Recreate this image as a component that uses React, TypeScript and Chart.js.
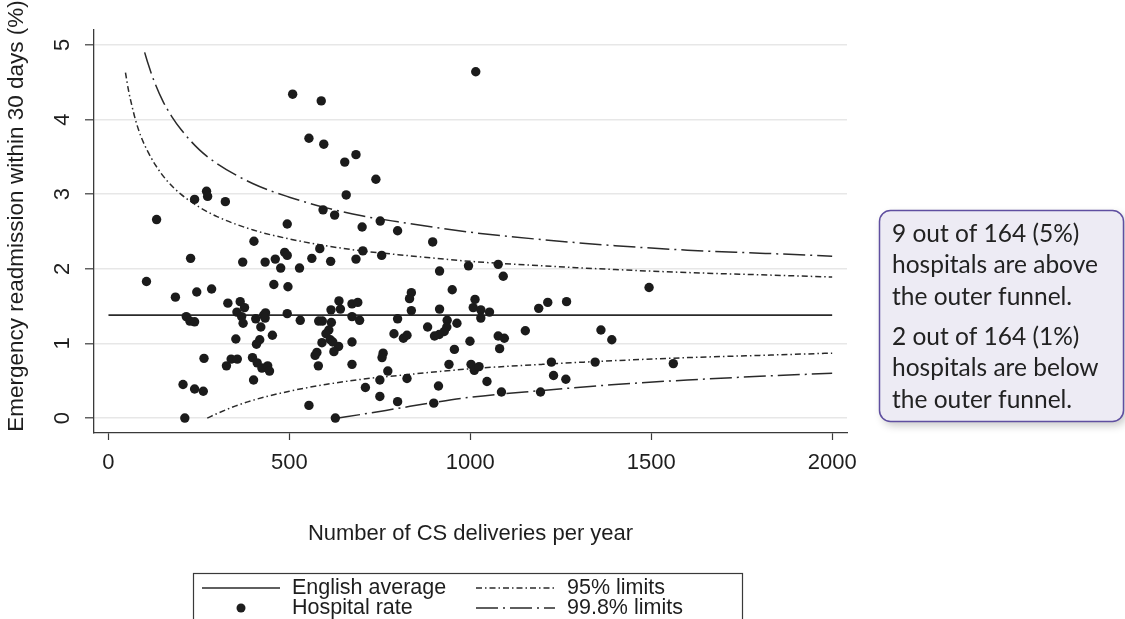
import React, { useEffect, useRef } from "react";
import { Chart, registerables } from "chart.js";

Chart.register(...registerables);

// Hospital caesarean-section volumes and 30-day emergency readmission rates (%)
const deliveries = [
  509, 588, 554, 595, 653, 684, 739, 657, 133, 238, 271, 274, 323, 494, 593, 625,
  1015, 751, 701, 799, 896, 703, 684, 755, 915, 995, 1077, 1091, 950, 637, 673, 689,
  641, 673, 694, 837, 832, 837, 799, 789, 815, 825, 882, 915, 936, 935, 928, 914,
  901, 963, 1013, 1008, 1029, 1053, 1029, 999, 956, 1077, 1094, 1081, 1152, 1189, 1214, 1266,
  636, 673, 673, 759, 756, 772, 750, 825, 710, 750, 799, 899, 912, 941, 1002, 1011,
  1024, 1046, 1086, 1194, 1224, 1230, 1264, 1494, 1361, 1391, 1345, 1561, 402, 487, 494, 461,
  433, 371, 227, 476, 528, 562, 584, 614, 105, 185, 244, 285, 457, 496, 330, 364,
  376, 355, 368, 372, 407, 421, 429, 434, 433, 494, 453, 530, 215, 225, 238, 352,
  409, 418, 264, 326, 339, 356, 398, 411, 424, 440, 445, 401, 206, 238, 262, 211,
  554, 627, 581, 591, 615, 616, 609, 601, 590, 613, 620, 623, 576, 571, 580,
];
const readmissionRates = [
  4.34, 4.25, 3.75, 3.67, 3.43, 3.53, 3.20, 2.99, 2.66, 2.93, 3.04, 2.97, 2.90, 2.60, 2.79, 2.72,
  4.64, 2.64, 2.56, 2.51, 2.36, 2.24, 2.13, 2.18, 1.97, 2.04, 2.06, 1.90, 1.72, 1.57, 1.53, 1.55,
  1.46, 1.36, 1.31, 1.68, 1.60, 1.44, 1.33, 1.13, 1.07, 1.11, 1.22, 1.46, 1.31, 1.22, 1.16, 1.12,
  1.10, 1.27, 1.59, 1.48, 1.45, 1.42, 1.34, 1.03, 0.92, 1.10, 1.07, 0.93, 1.17, 1.47, 1.55, 1.56,
  0.96, 1.02, 0.72, 0.87, 0.81, 0.63, 0.51, 0.53, 0.41, 0.29, 0.22, 0.20, 0.43, 0.72, 0.72, 0.64,
  0.69, 0.49, 0.35, 0.35, 0.75, 0.57, 0.52, 1.75, 1.18, 1.05, 0.75, 0.73, 2.37, 2.22, 2.18, 2.13,
  2.09, 2.09, 2.14, 2.01, 2.01, 2.14, 2.27, 2.10, 1.83, 1.62, 1.69, 1.73, 1.79, 1.76, 1.54, 1.56,
  1.48, 1.42, 1.36, 1.27, 1.33, 1.22, 1.38, 1.41, 1.34, 1.40, 1.11, 1.31, 1.36, 1.30, 1.29, 1.06,
  0.99, 1.05, 0.80, 0.70, 0.79, 0.79, 0.81, 0.74, 0.67, 0.70, 0.63, 0.51, 0.45, 0.39, 0.36, 0.00,
  0.17, 0.00, 1.30, 1.30, 1.45, 1.28, 1.18, 1.13, 1.01, 1.05, 1.02, 0.89, 0.88, 0.84, 0.70,
];

// English average rate across all hospitals
const averageRate = 1.38;
const averageSpan = [0, 2000];

// Funnel control limits (%) against number of deliveries
const upper95Sizes = [47, 55, 65, 75, 90, 110, 130, 160, 200, 250, 300, 400, 500, 600, 700, 800, 1000, 1200, 1400, 1600, 1800, 2000];
const upper95Rates = [4.63, 4.40, 4.18, 3.99, 3.77, 3.56, 3.39, 3.19, 3.00, 2.83, 2.70, 2.52, 2.40, 2.31, 2.24, 2.19, 2.10, 2.04, 1.99, 1.95, 1.92, 1.89];
const lower95Sizes = [273, 300, 350, 400, 500, 600, 700, 800, 1000, 1200, 1400, 1600, 1800, 2000];
const lower95Rates = [0.0, 0.06, 0.16, 0.24, 0.36, 0.45, 0.52, 0.57, 0.66, 0.72, 0.77, 0.81, 0.84, 0.87];
const upper998Sizes = [100, 110, 125, 150, 175, 200, 250, 300, 400, 500, 600, 700, 800, 1000, 1200, 1400, 1600, 1800, 2000];
const upper998Rates = [4.90, 4.74, 4.53, 4.25, 4.04, 3.87, 3.60, 3.41, 3.14, 2.96, 2.82, 2.71, 2.63, 2.49, 2.39, 2.31, 2.25, 2.21, 2.17];
const lower998Sizes = [635, 700, 800, 900, 1000, 1200, 1400, 1600, 1800, 2000];
const lower998Rates = [0.0, 0.05, 0.13, 0.21, 0.28, 0.37, 0.45, 0.51, 0.56, 0.60];

// Axis ticks
const xTickValues = [0, 500, 1000, 1500, 2000];
const yTickValues = [0, 1, 2, 3, 4, 5];

// Axis titles, legend and note texts
const xTitle = "Number of CS deliveries per year";
const yTitle = "Emergency readmission within 30 days (%)";
const legendLabels = ["English average", "95% limits", "Hospital rate", "99.8% limits"];
const noteLines = [
  ["9 out of 164 (5%)", "hospitals are above", "the outer funnel."],
  ["2 out of 164 (1%)", "hospitals are below", "the outer funnel."],
];

const FONT = "'Liberation Sans', Arial, Helvetica, sans-serif";
const NOTE_FONT = "Lato, 'Open Sans', sans-serif";
const INK = "#1e1e1e";
const LINE_INK = "#2a2a2a";
const DASH_95 = [6, 3, 1.5, 3];
const DASH_998 = [22, 5, 2, 5];

const toPoints = (xs: number[], ys: number[]) => xs.map((x, i) => ({ x, y: ys[i] }));

// Vertical tick labels and the rotated y-axis title
const yAxisText = {
  id: "yAxisText",
  afterDraw(chart: any) {
    const { ctx } = chart;
    const yScale = chart.scales.y;
    ctx.save();
    ctx.fillStyle = INK;
    ctx.font = `22px ${FONT}`;
    ctx.textAlign = "center";
    ctx.textBaseline = "middle";
    for (const v of yTickValues) {
      const py = yScale.getPixelForValue(v);
      ctx.save();
      ctx.translate(63, py);
      ctx.rotate(-Math.PI / 2);
      ctx.fillText(String(v), 0, 0);
      ctx.restore();
    }
    ctx.save();
    ctx.font = `22.5px ${FONT}`;
    ctx.translate(17, 216);
    ctx.rotate(-Math.PI / 2);
    ctx.fillText(yTitle, 0, 0);
    ctx.restore();
    ctx.restore();
  },
};

const funnelLegend = {
  id: "funnelLegend",
  afterDraw(chart: any) {
    const { ctx } = chart;
    ctx.save();
    ctx.strokeStyle = "#3a3a3a";
    ctx.lineWidth = 1.2;
    ctx.strokeRect(193.5, 573.5, 549, 80);

    const rowY = [588, 608];
    const sampleX = [[202, 280], [476, 555]];
    const textX = [292, 567];

    const drawSample = (col: number, row: number, dash: number[]) => {
      ctx.save();
      ctx.strokeStyle = LINE_INK;
      ctx.lineWidth = 1.5;
      ctx.setLineDash(dash);
      ctx.beginPath();
      ctx.moveTo(sampleX[col][0], rowY[row]);
      ctx.lineTo(sampleX[col][1], rowY[row]);
      ctx.stroke();
      ctx.restore();
    };
    drawSample(0, 0, []);
    drawSample(1, 0, DASH_95);
    drawSample(1, 1, DASH_998);
    ctx.fillStyle = INK;
    ctx.beginPath();
    ctx.arc((sampleX[0][0] + sampleX[0][1]) / 2, rowY[1], 4.5, 0, Math.PI * 2);
    ctx.fill();

    ctx.font = `21.5px ${FONT}`;
    ctx.textBaseline = "middle";
    ctx.textAlign = "left";
    ctx.fillText(legendLabels[0], textX[0], rowY[0]);
    ctx.fillText(legendLabels[1], textX[1], rowY[0]);
    ctx.fillText(legendLabels[2], textX[0], rowY[1]);
    ctx.fillText(legendLabels[3], textX[1], rowY[1]);
    ctx.restore();
  },
};

const noteBox = {
  id: "noteBox",
  afterDraw(chart: any) {
    const { ctx } = chart;
    const x = 879.5, y = 210.5, w = 244, h = 211, r = 11;
    ctx.save();
    ctx.beginPath();
    ctx.roundRect(x, y, w, h, r);
    ctx.shadowColor = "rgba(0,0,0,0.22)";
    ctx.shadowBlur = 9;
    ctx.shadowOffsetX = 3;
    ctx.shadowOffsetY = 4;
    ctx.fillStyle = "#edebf4";
    ctx.fill();
    ctx.shadowColor = "transparent";
    ctx.strokeStyle = "#5f4fa0";
    ctx.lineWidth = 1.5;
    ctx.stroke();

    ctx.fillStyle = "#222";
    ctx.font = `24.5px ${NOTE_FONT}`;
    ctx.textBaseline = "middle";
    ctx.textAlign = "left";
    const starts = [234, 337];
    noteLines.forEach((para, p) => {
      para.forEach((line, i) => {
        ctx.fillText(line, 892, starts[p] + i * 31.5);
      });
    });
    ctx.restore();
  },
};

export default function App() {
  const canvasRef = useRef<HTMLCanvasElement | null>(null);

  useEffect(() => {
    const canvas = canvasRef.current;
    if (!canvas) return;

    const lineDefaults = {
      showLine: true,
      pointRadius: 0,
      pointHoverRadius: 0,
      borderColor: LINE_INK,
      borderWidth: 1.5,
      fill: false,
      cubicInterpolationMode: "monotone" as const,
      order: 2,
    };

    const chart = new Chart(canvas, {
      type: "scatter",
      data: {
        datasets: [
          {
            label: "Hospital rate",
            data: toPoints(deliveries, readmissionRates),
            pointRadius: 4.7,
            pointHoverRadius: 4.7,
            pointBackgroundColor: "#1b1b1b",
            pointBorderWidth: 0,
            showLine: false,
            order: 1,
          },
          {
            ...lineDefaults,
            label: "English average",
            data: toPoints(averageSpan, averageSpan.map(() => averageRate)),
            borderWidth: 1.6,
          },
          { ...lineDefaults, label: "95% upper", data: toPoints(upper95Sizes, upper95Rates), borderDash: DASH_95 },
          { ...lineDefaults, label: "95% lower", data: toPoints(lower95Sizes, lower95Rates), borderDash: DASH_95 },
          { ...lineDefaults, label: "99.8% upper", data: toPoints(upper998Sizes, upper998Rates), borderDash: DASH_998 },
          { ...lineDefaults, label: "99.8% lower", data: toPoints(lower998Sizes, lower998Rates), borderDash: DASH_998 },
        ],
      },
      options: {
        responsive: false,
        animation: false,
        events: [],
        layout: { padding: { left: 0, top: 30, right: 278, bottom: 60 } },
        plugins: {
          legend: { display: false },
          tooltip: { enabled: false },
        },
        scales: {
          x: {
            type: "linear",
            position: "bottom",
            min: -40,
            max: 2041,
            afterBuildTicks: (scale: any) => {
              scale.ticks = xTickValues.map((value) => ({ value }));
            },
            afterFit: (scale: any) => {
              scale.height = 126;
            },
            grid: {
              drawOnChartArea: false,
              drawTicks: true,
              tickLength: 7,
              tickColor: "#3a3a3a",
              tickWidth: 1.2,
            },
            border: { display: true, color: "#3a3a3a", width: 1.3 },
            ticks: {
              autoSkip: false,
              maxRotation: 0,
              minRotation: 0,
              padding: 10,
              color: INK,
              font: { family: FONT, size: 22 },
              callback: (v: any) => String(v),
            },
            title: {
              display: true,
              text: xTitle,
              color: INK,
              font: { family: FONT, size: 22 },
              padding: { top: 0, bottom: 12 },
            },
          },
          y: {
            type: "linear",
            position: "left",
            min: -0.2,
            max: 5.2,
            afterBuildTicks: (scale: any) => {
              scale.ticks = yTickValues.map((value) => ({ value }));
            },
            afterFit: (scale: any) => {
              scale.width = 94;
            },
            grid: {
              color: "#e7e7e7",
              lineWidth: 1.6,
              drawTicks: true,
              tickLength: 9,
              tickColor: "#3a3a3a",
              tickWidth: 1.2,
            },
            border: { display: true, color: "#3a3a3a", width: 1.3 },
            ticks: { display: false },
            title: { display: false },
          },
        },
      },
      plugins: [yAxisText, funnelLegend, noteBox],
    });

    return () => chart.destroy();
  }, []);

  return (
    <div style={{ position: "fixed", left: 0, top: 0, width: 1125, height: 619, background: "#fff" }}>
      <canvas ref={canvasRef} width={1125} height={619} style={{ width: 1125, height: 619, display: "block" }} />
    </div>
  );
}
